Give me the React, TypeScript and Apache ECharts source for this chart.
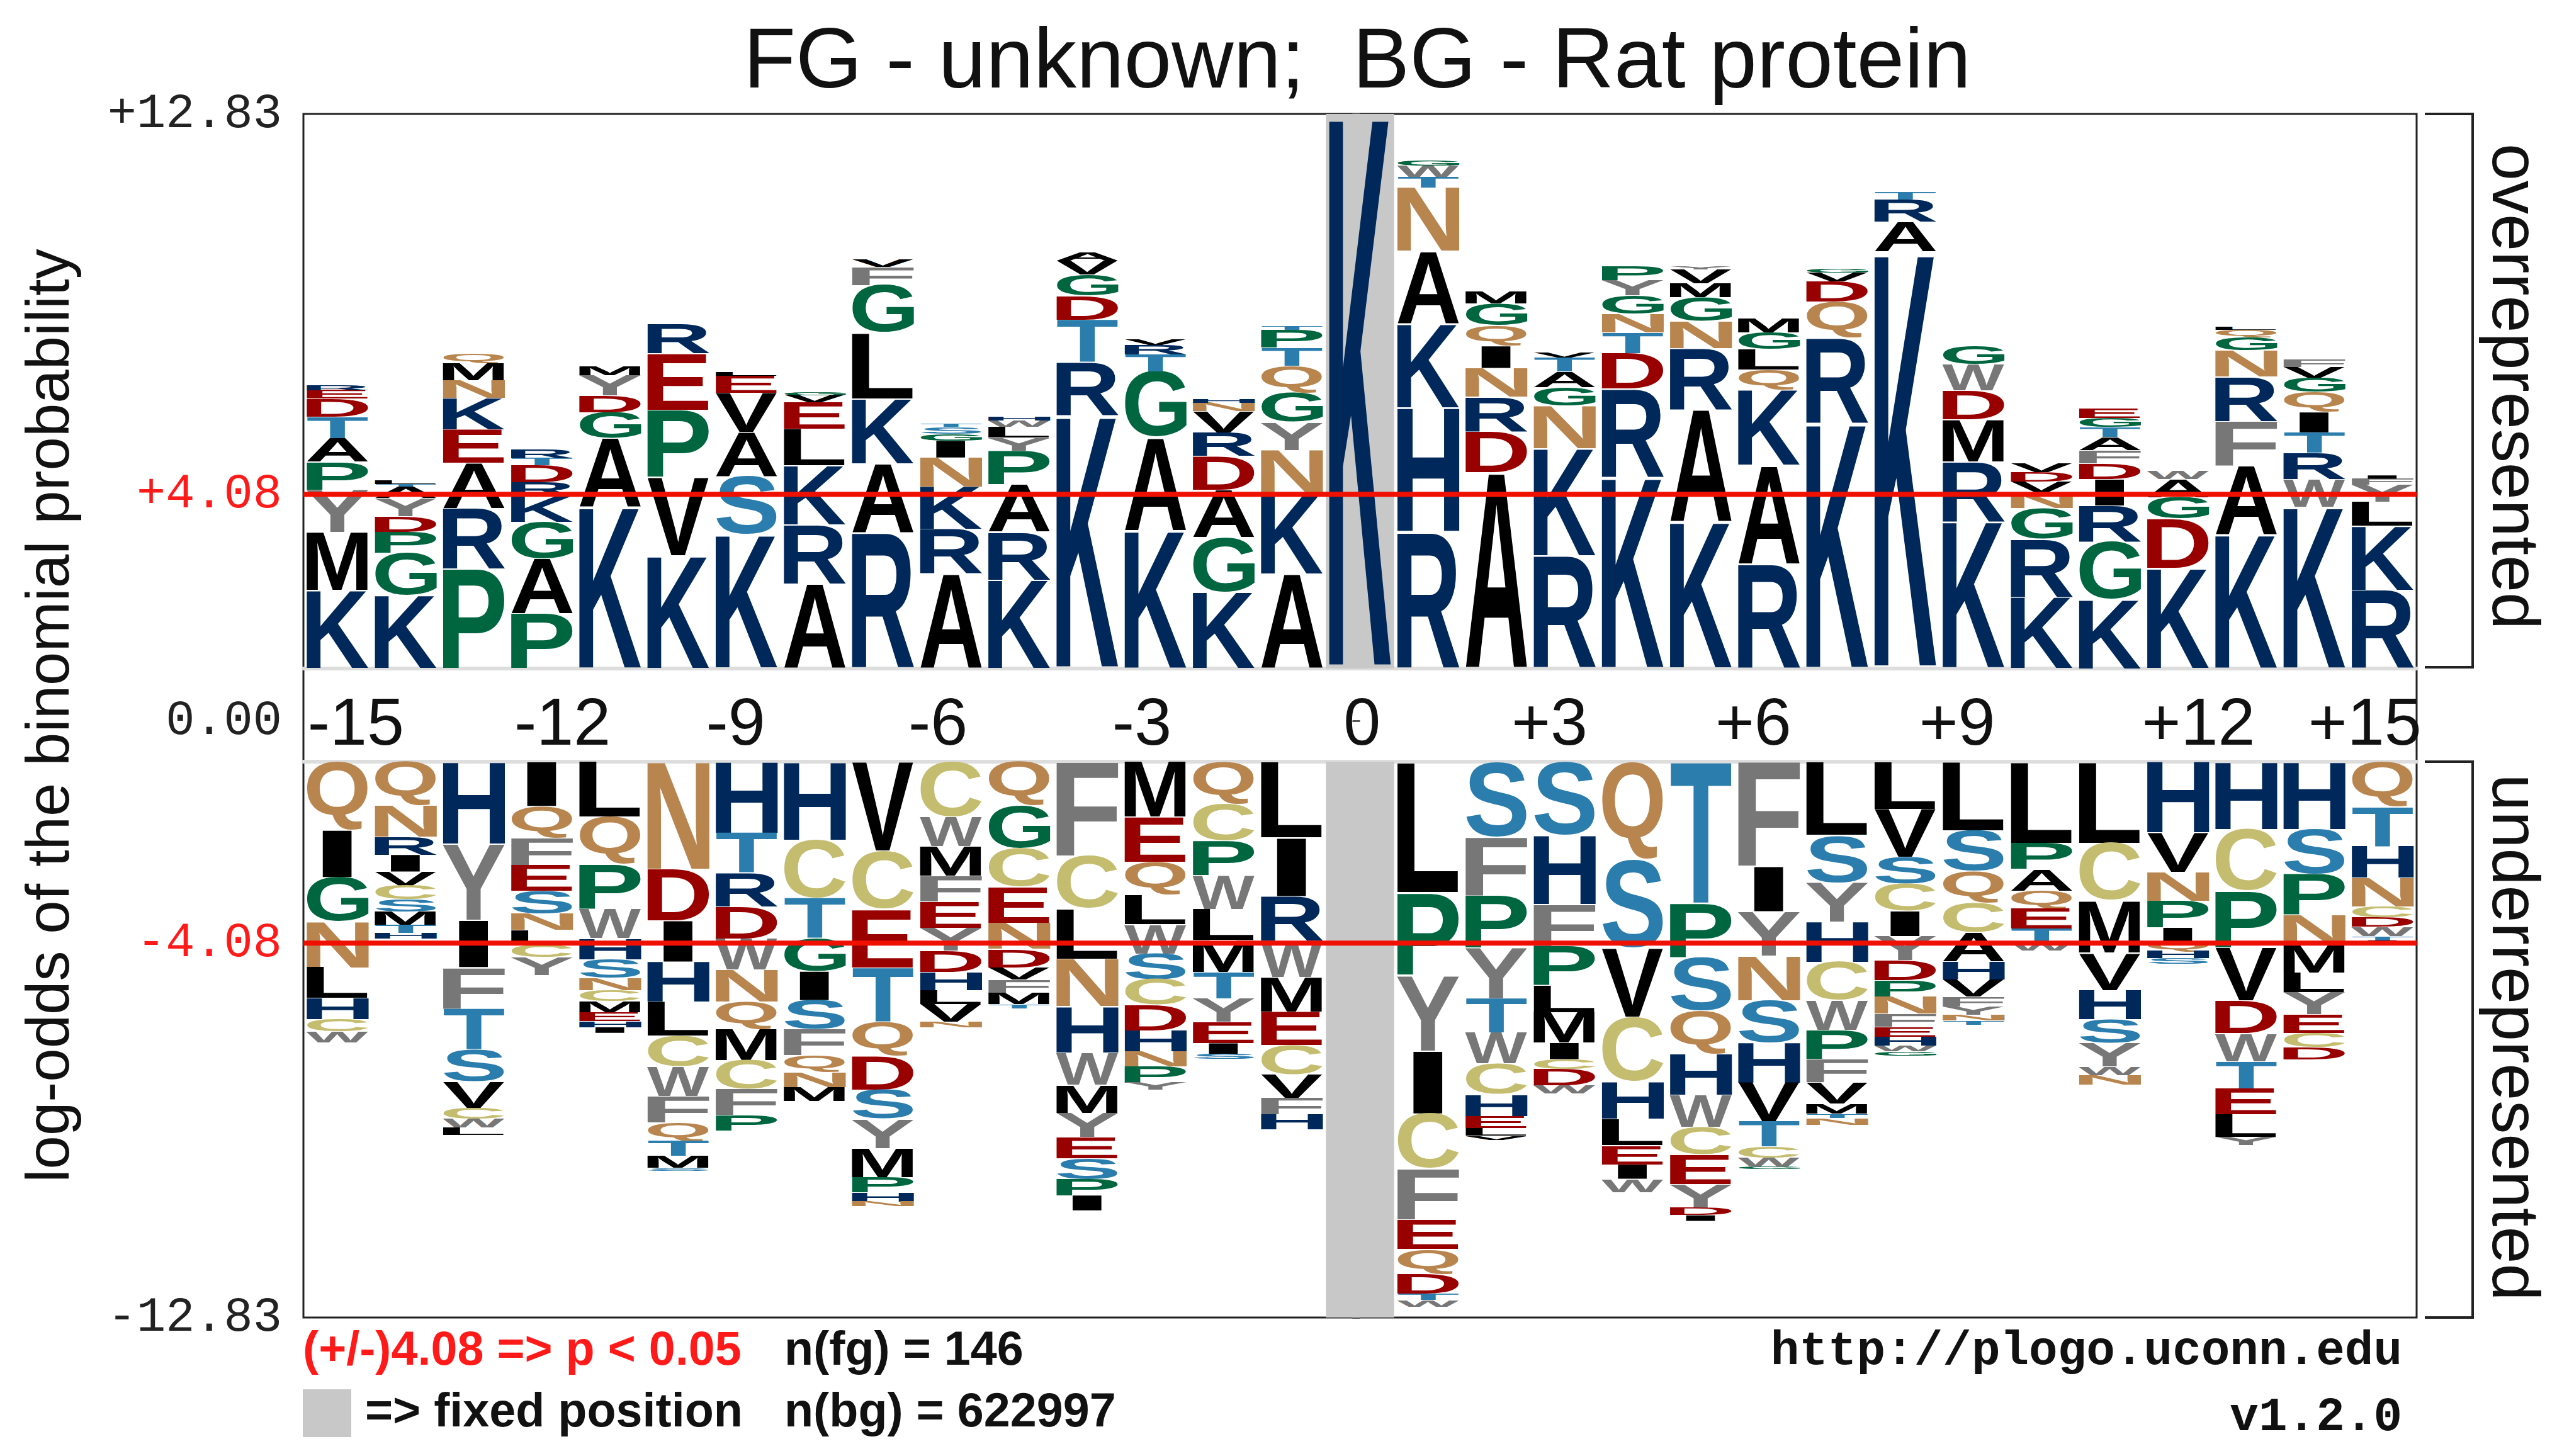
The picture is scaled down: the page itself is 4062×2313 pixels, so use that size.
import React, { useEffect, useRef } from "react";
import * as echarts from "echarts";

const TITLE = "FG - unknown;  BG - Rat protein";
const Y_NAME = "log-odds of the binomial probability";
const LIMIT = 12.83;
const FIXED_COLUMN = 0;
const POSITIONS = Array.from({ length: 31 }, (_, i) => i - 15);

const redLineTop = 4.03;
const redLineBottom = -4.19;
const topTickValues = [redLineTop, LIMIT];
const topTickLabels = ["+4.08", "+12.83"];
const bottomTickValues = [-LIMIT, redLineBottom];
const bottomTickLabels = ["-12.83", "-4.08"];
const xLabelPositions = [-14.73, -11.7, -9.16, -6.19, -3.2, 0.03, 2.78, 5.77, 8.76, 12.3, 14.74];
const xLabelTexts = ["-15", "-12", "-9", "-6", "-3", "0", "+3", "+6", "+9", "+12", "+15"];

// Letters stacked upward from zero, one string per position (-15 .. +15)
const overLetters = [
  "KMYPATDER", "KGPDYATL", "PRAEKNMQ", "PAGKRDTR", "KAGDYM", "KVPER", "KSAVEL", "ARKLEVG",
  "RAKLGFV", "ARKNIGST", "KRAPYLWH", "KRTDGVA", "KAGTRV", "KGADRVNH", "AKNYGQTPT", "K",
  "RHKANTWG", "ADRNIQGM", "RKNGATV", "KRDTNGYP", "KARNGMVY", "RAKQLGM", "KRQDVG", "KART",
  "KRMDWG", "KRGNVDV", "KGRIDFATGE", "KDGAW", "KAFRNGQL", "KWRTIQGVF", "RKLYFI",
];
const overHeights = [
  [1.8, 1.35, 0.98, 0.65, 0.55, 0.49, 0.42, 0.2, 0.11],
  [1.69, 0.98, 0.49, 0.36, 0.42, 0.27, 0.05, 0.1],
  [2.31, 1.4, 1.04, 0.78, 0.73, 0.41, 0.39, 0.23],
  [1.27, 1.27, 0.85, 0.59, 0.33, 0.39, 0.16, 0.2],
  [3.74, 1.59, 0.6, 0.38, 0.47, 0.2],
  [2.6, 1.83, 1.55, 1.31, 0.68],
  [3.09, 1.35, 1.03, 0.91, 0.39, 0.1],
  [1.95, 1.37, 1.37, 0.85, 0.62, 0.16, 0.07],
  [3.15, 1.59, 1.5, 1.53, 1.1, 0.42, 0.16],
  [2.18, 1.04, 0.98, 0.68, 0.39, 0.16, 0.16, 0.07],
  [2.05, 1.11, 1.1, 0.78, 0.3, 0.25, 0.15, 0.1],
  [5.85, 1.24, 0.98, 0.55, 0.49, 0.33, 0.18],
  [3.19, 2.15, 1.53, 0.39, 0.23, 0.13],
  [1.76, 1.27, 1.1, 0.78, 0.55, 0.49, 0.2, 0.1],
  [2.18, 1.89, 0.98, 0.65, 0.68, 0.62, 0.42, 0.42, 0.1],
  [12.83],
  [3.16, 2.88, 1.93, 1.68, 1.48, 0.24, 0.26, 0.11],
  [4.54, 0.95, 0.79, 0.67, 0.51, 0.47, 0.51, 0.28],
  [2.6, 2.49, 0.99, 0.43, 0.36, 0.32, 0.12],
  [4.42, 2.05, 0.83, 0.47, 0.43, 0.43, 0.36, 0.32],
  [3.39, 2.6, 1.42, 0.63, 0.55, 0.32, 0.32, 0.08],
  [2.41, 2.29, 1.74, 0.47, 0.47, 0.39, 0.32],
  [5.68, 1.97, 0.83, 0.47, 0.2, 0.1],
  [9.65, 0.69, 0.51, 0.16],
  [3.4, 1.39, 0.97, 0.67, 0.61, 0.42],
  [1.65, 1.34, 0.72, 0.36, 0.25, 0.22, 0.2],
  [1.59, 1.34, 0.84, 0.61, 0.36, 0.31, 0.31, 0.22, 0.22, 0.22],
  [2.32, 1.14, 0.5, 0.42, 0.19],
  [3.1, 1.59, 1.03, 1.03, 0.61, 0.31, 0.17, 0.08],
  [3.74, 0.64, 0.61, 0.47, 0.47, 0.47, 0.33, 0.25, 0.17],
  [1.82, 1.48, 0.56, 0.39, 0.14, 0.08],
];

// Letters stacked downward from zero, one string per position (-15 .. +15)
const underLetters = [
  "QIGNLHCW", "QNRIVCSMTH", "HYIFTSVCWL", "IQFESNLCY", "LQPWHSNCMEHI", "NDIHLCWFQTMS", "HTRDWNQMCFP", "HCTGISFQNM",
  "VCETQDSYMPHN", "CWMFEYDHLVN", "QGCENDVFMT", "FCLNHWMYESPI", "MEQLWSCDHNPY", "QCPWLMTYEIS", "LIRWMECVFH", "",
  "LPYICFEQDTW", "SFPYTWCHELV", "SHFPLMICDW", "QSVCHLEIW", "TPSQHWCEYDI", "FIYNSHVTCWG", "LSYHCWPFVMTN", "LVSCIYDPNFEHWG",
  "LSQCAHVFYNT", "LPAQETW", "LCMVHSYWN", "HVNPIQHS", "HCPVDWTELY", "HSPNMLYECD", "QTHNCDWTI",
];
const underHeights = [
  [1.58, 1.09, 1.02, 1.06, 0.71, 0.49, 0.28, 0.25],
  [1.02, 0.71, 0.42, 0.39, 0.32, 0.32, 0.28, 0.32, 0.18, 0.13],
  [1.9, 1.76, 1.09, 0.95, 0.95, 0.74, 0.6, 0.25, 0.21, 0.16],
  [1.03, 0.73, 0.62, 0.61, 0.53, 0.37, 0.34, 0.28, 0.42],
  [1.28, 1.1, 1.02, 0.68, 0.48, 0.44, 0.28, 0.25, 0.25, 0.21, 0.14, 0.13],
  [2.48, 1.19, 0.95, 0.92, 0.79, 0.71, 0.69, 0.6, 0.42, 0.35, 0.28, 0.06],
  [1.65, 0.92, 0.78, 0.74, 0.71, 0.74, 0.64, 0.71, 0.67, 0.6, 0.35],
  [1.81, 1.35, 0.92, 0.76, 0.67, 0.67, 0.6, 0.39, 0.34, 0.33],
  [2.07, 1.33, 1.35, 1.26, 0.79, 0.78, 0.67, 0.67, 0.67, 0.35, 0.21, 0.11],
  [1.28, 0.68, 0.68, 0.59, 0.61, 0.53, 0.49, 0.42, 0.32, 0.41, 0.13],
  [1.02, 0.99, 0.88, 0.83, 0.61, 0.42, 0.28, 0.3, 0.26, 0.1],
  [2.18, 1.22, 1.16, 1.09, 1.07, 0.74, 0.65, 0.56, 0.49, 0.48, 0.37, 0.35],
  [1.28, 1.04, 0.76, 0.68, 0.67, 0.6, 0.59, 0.58, 0.49, 0.35, 0.37, 0.16],
  [0.97, 0.86, 0.79, 0.78, 0.72, 0.74, 0.6, 0.55, 0.49, 0.25, 0.11],
  [1.76, 1.35, 1.04, 0.83, 0.79, 0.78, 0.67, 0.55, 0.37, 0.35],
  [],
  [3.03, 1.9, 1.75, 1.45, 1.27, 1.17, 0.69, 0.57, 0.46, 0.14, 0.15],
  [1.75, 1.34, 1.21, 1.17, 0.79, 0.71, 0.71, 0.5, 0.28, 0.17, 0.1],
  [1.71, 1.59, 0.96, 0.9, 0.62, 0.71, 0.38, 0.23, 0.37, 0.19],
  [2.26, 2.05, 1.59, 1.5, 0.85, 0.61, 0.44, 0.33, 0.31],
  [3.28, 1.25, 1.23, 1.0, 0.94, 0.73, 0.64, 0.69, 0.54, 0.17, 0.13],
  [2.42, 1.04, 1.02, 1.03, 0.98, 0.92, 0.9, 0.58, 0.25, 0.21, 0.06],
  [1.71, 1.09, 0.9, 0.92, 0.89, 0.69, 0.67, 0.53, 0.5, 0.23, 0.1, 0.15],
  [1.09, 1.11, 0.62, 0.63, 0.58, 0.56, 0.46, 0.38, 0.39, 0.3, 0.23, 0.21, 0.13, 0.1],
  [1.59, 0.94, 0.73, 0.68, 0.67, 0.42, 0.39, 0.23, 0.19, 0.13, 0.1],
  [1.88, 0.6, 0.5, 0.41, 0.47, 0.32, 0.18],
  [1.88, 1.33, 1.2, 0.86, 0.68, 0.54, 0.55, 0.19, 0.23],
  [1.64, 0.91, 0.66, 0.62, 0.32, 0.23, 0.16, 0.13],
  [1.56, 1.43, 1.3, 1.23, 0.75, 0.65, 0.62, 0.6, 0.53, 0.18],
  [1.56, 1.04, 0.94, 0.68, 0.65, 0.45, 0.51, 0.44, 0.32, 0.29],
  [1.04, 0.91, 0.73, 0.66, 0.25, 0.22, 0.21, 0.1, 0.1],
];

const NAVY = "#00285a";
const RED = "#990000";
const GREEN = "#006640";
const BLUE = "#2a7dad";
const TAN = "#b9854f";
const KHAKI = "#c4bc6e";
const GRAY = "#777777";
const BLACK = "#000000";
const letterColors: Record<string, string> = {
  K: NAVY, R: NAVY, H: NAVY, D: RED, E: RED, G: GREEN, P: GREEN, S: BLUE, T: BLUE,
  N: TAN, Q: TAN, C: KHAKI, F: GRAY, W: GRAY, Y: GRAY, A: BLACK, I: BLACK, L: BLACK, M: BLACK, V: BLACK,
};

const LETTER_FONT = 'bold 100px "Liberation Sans"';
const MEASURE_FONT = 'bold 1000px "Liberation Sans"';
// The SVG central baseline sits this far above the alphabetic one, for a 100px font
const CENTRAL_OFFSET = 35.2;
const SANS = '"Liberation Sans"';
const MONO = '"Liberation Mono"';
const TEXT_RED = "#ff1a1a";
const LINE_RED = "#f01000";

const plotLeft = 482;
const plotWidth = 3357;
const topPanel = 181;
const topPanelHeight = 881;
const bottomPanel = 1210;
const bottomPanelHeight = 883;

type Ink = { l: number; r: number; a: number; d: number };
const inkCache: Record<string, Ink> = {};
let measureCtx: CanvasRenderingContext2D | null = null;
function inkOf(ch: string): Ink {
  if (inkCache[ch]) return inkCache[ch];
  if (!measureCtx) measureCtx = document.createElement("canvas").getContext("2d");
  const c = measureCtx as CanvasRenderingContext2D;
  c.font = MEASURE_FONT;
  c.textAlign = "left";
  c.textBaseline = "alphabetic";
  const m = c.measureText(ch);
  const ink = {
    l: m.actualBoundingBoxLeft / 10,
    r: m.actualBoundingBoxRight / 10,
    a: m.actualBoundingBoxAscent / 10 - CENTRAL_OFFSET,
    d: m.actualBoundingBoxDescent / 10 + CENTRAL_OFFSET,
  };
  inkCache[ch] = ink;
  return ink;
}

function stackData(letters: string[], heights: number[][], sign: number) {
  const rows: [number, number, number, string][] = [];
  letters.forEach((word, col) => {
    let base = 0;
    word.split("").forEach((ch, i) => {
      const next = base + sign * heights[col][i];
      rows.push([POSITIONS[col], base, next, ch]);
      base = next;
    });
  });
  return rows;
}

function renderLetter(params: any, api: any) {
  const x = api.value(0);
  const ch = String(api.value(3));
  const p0 = api.coord([x, api.value(1)]);
  const p1 = api.coord([x, api.value(2)]);
  const top = Math.min(p0[1], p1[1]);
  const h = Math.abs(p1[1] - p0[1]);
  const full = api.size([1, 0])[0] * 0.915;
  const w = ch === "I" ? full * 0.5 : full;
  const left = p0[0] - w / 2;
  const ink = inkOf(ch);
  const sx = w / (ink.l + ink.r);
  const sy = h / (ink.a + ink.d);
  return {
    type: "text",
    silent: true,
    x: left + ink.l * sx,
    y: top + ink.a * sy,
    scaleX: sx,
    scaleY: sy,
    style: {
      text: ch,
      font: LETTER_FONT,
      fill: letterColors[ch],
      textAlign: "left",
      textVerticalAlign: "middle",
      align: "left",
      verticalAlign: "middle",
    },
  };
}

function renderFixed(params: any, api: any) {
  const x = api.value(0);
  const a = api.coord([x, api.value(1)]);
  const b = api.coord([x, api.value(2)]);
  const w = api.size([1, 0])[0];
  return {
    type: "rect",
    silent: true,
    shape: { x: a[0] - w / 2, y: Math.min(a[1], b[1]), width: w, height: Math.abs(b[1] - a[1]) },
    style: { fill: "#c8c8c8" },
  };
}

const xHidden = (gridIndex: number, extra: any = {}) => ({
  type: "value",
  gridIndex,
  min: -15.5,
  max: 15.5,
  axisLabel: { show: false },
  axisTick: { show: false },
  splitLine: { show: false },
  axisLine: { show: false },
  ...extra,
});

const yMono = (gridIndex: number, min: number, max: number, vals: number[], labels: string[], redValue: number | null) => ({
  type: "value",
  gridIndex,
  min,
  max,
  splitLine: { show: false },
  axisLine: { show: false },
  axisTick: { show: true, length: 12, customValues: vals, lineStyle: { color: "#555", width: 3 } },
  axisLabel: {
    customValues: vals,
    margin: 34,
    fontFamily: MONO,
    fontSize: 77,
    color: (v: any) => (Number(v) === redValue ? TEXT_RED : "#222"),
    formatter: (v: number) => labels[vals.indexOf(Number(v))],
  },
});

const hLine = (xIdx: number, yIdx: number, v: number) => ({
  type: "line",
  xAxisIndex: xIdx,
  yAxisIndex: yIdx,
  z: 5,
  silent: true,
  symbol: "none",
  lineStyle: { color: LINE_RED, width: 8 },
  data: [[-15.5, v], [15.5, v]],
});

const bracket = (y0: number, y1: number) => ({
  type: "polyline",
  shape: { points: [[3852, y0], [3928, y0], [3928, y1], [3852, y1]] },
  style: { stroke: "#222", lineWidth: 4, fill: "none" },
});

const txt = (x: number, y: number, text: string, font: string, fill: string, align = "left") => ({
  type: "text",
  x,
  y,
  style: { text, font, fill, textAlign: align, textVerticalAlign: "middle", align, verticalAlign: "middle" },
});

const rotated = (x: number, y: number, text: string, size: number, rotation: number) => ({
  type: "text",
  x,
  y,
  rotation,
  style: {
    text,
    font: `${size}px ${SANS}`,
    fill: "#111",
    textAlign: "center",
    textVerticalAlign: "middle",
    align: "center",
    verticalAlign: "middle",
  },
});

export default function App() {
  const ref = useRef<HTMLDivElement>(null);
  useEffect(() => {
    document.body.style.margin = "0";
    const chart = echarts.init(ref.current as HTMLDivElement, undefined, { renderer: "svg" });
    chart.setOption({
      animation: false,
      backgroundColor: "#ffffff",
      title: {
        text: TITLE,
        left: 2151,
        top: 19,
        textAlign: "center",
        textStyle: { fontFamily: SANS, fontSize: 136, fontWeight: "normal", color: "#111" },
      },
      grid: [
        { left: plotLeft, width: plotWidth, top: topPanel, height: topPanelHeight },
        { left: plotLeft, width: plotWidth, top: 1144, height: 2 },
        { left: plotLeft, width: plotWidth, top: bottomPanel, height: bottomPanelHeight },
        {
          left: plotLeft,
          width: plotWidth,
          top: topPanel,
          height: bottomPanel + bottomPanelHeight - topPanel,
          show: true,
          borderColor: "#222",
          borderWidth: 3,
          backgroundColor: "transparent",
        },
      ],
      xAxis: [
        xHidden(0, { axisLine: { show: true, onZero: false, lineStyle: { color: "#dddddd", width: 6 } } }),
        xHidden(1, {
          axisLabel: {
            show: true,
            customValues: xLabelPositions,
            margin: 0,
            verticalAlign: "middle",
            fontFamily: SANS,
            fontSize: 106,
            color: "#111",
            formatter: (v: number) => xLabelTexts[xLabelPositions.indexOf(Number(v))],
          },
        }),
        xHidden(2, {
          position: "top",
          axisLine: { show: true, onZero: false, lineStyle: { color: "#dddddd", width: 6 } },
        }),
        xHidden(3),
      ],
      yAxis: [
        yMono(0, 0, LIMIT, topTickValues, topTickLabels, redLineTop),
        yMono(1, -1, 1, [0], ["0.00"], null),
        yMono(2, -LIMIT, 0, bottomTickValues, bottomTickLabels, redLineBottom),
        { type: "value", gridIndex: 3, show: false, min: 0, max: 1 },
      ],
      series: [
        {
          type: "custom",
          xAxisIndex: 0,
          yAxisIndex: 0,
          z: 1,
          renderItem: renderFixed,
          data: [[FIXED_COLUMN, 0, LIMIT]],
        },
        {
          type: "custom",
          xAxisIndex: 2,
          yAxisIndex: 2,
          z: 1,
          renderItem: renderFixed,
          data: [[FIXED_COLUMN, -LIMIT, 0]],
        },
        {
          type: "custom",
          xAxisIndex: 0,
          yAxisIndex: 0,
          z: 2,
          clip: false,
          renderItem: renderLetter,
          dimensions: ["x", "from", "to", { name: "letter", type: "ordinal" }],
          encode: { x: 0, y: [1, 2] },
          data: stackData(overLetters, overHeights, 1),
        },
        {
          type: "custom",
          xAxisIndex: 2,
          yAxisIndex: 2,
          z: 2,
          clip: false,
          renderItem: renderLetter,
          dimensions: ["x", "from", "to", { name: "letter", type: "ordinal" }],
          encode: { x: 0, y: [1, 2] },
          data: stackData(underLetters, underHeights, -1),
        },
        hLine(0, 0, redLineTop),
        hLine(2, 2, redLineBottom),
      ],
      graphic: [
        rotated(75, 1137, Y_NAME, 96, Math.PI / 2),
        rotated(3997, 614, "overrepresented", 106, -Math.PI / 2),
        rotated(3997, 1648, "underrepresented", 106, -Math.PI / 2),
        bracket(181, 1060),
        bracket(1210, 2093),
        txt(481, 2142, "(+/-)4.08 => p < 0.05", `bold 75.5px ${SANS}`, TEXT_RED),
        txt(1246, 2142, "n(fg) = 146", `bold 75.5px ${SANS}`, "#111"),
        { type: "rect", shape: { x: 481, y: 2207, width: 77, height: 76 }, style: { fill: "#c8c8c8" } },
        txt(580, 2240, "=> fixed position", `bold 75.5px ${SANS}`, "#111"),
        txt(1246, 2240, "n(bg) = 622997", `bold 75.5px ${SANS}`, "#111"),
        txt(3816, 2147, "http://plogo.uconn.edu", `bold 76px ${MONO}`, "#111", "right"),
        txt(3816, 2252, "v1.2.0", `bold 76px ${MONO}`, "#111", "right"),
      ],
    });
    return () => chart.dispose();
  }, []);
  return <div ref={ref} style={{ width: 4062, height: 2313 }} />;
}
